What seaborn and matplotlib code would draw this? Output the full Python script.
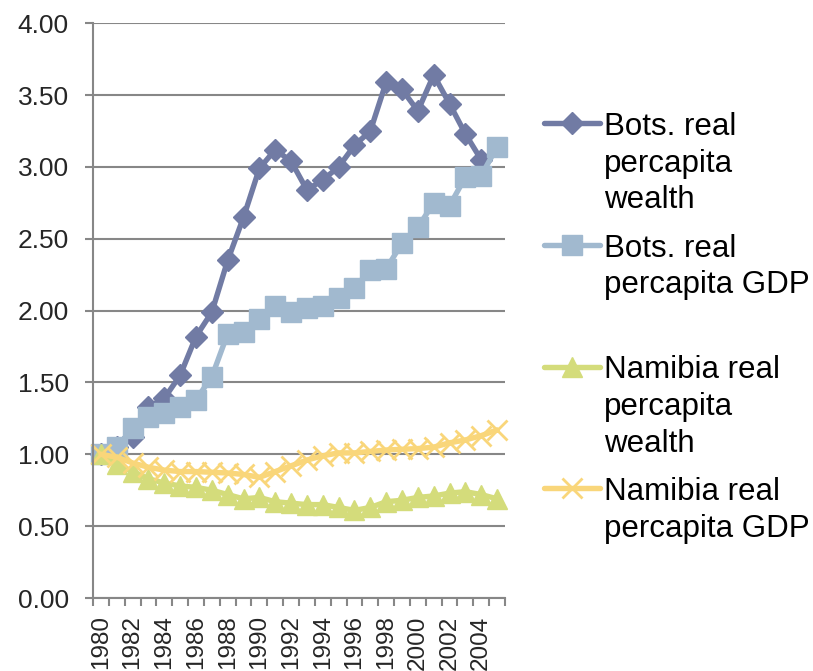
import numpy as np
import pandas as pd
import matplotlib
matplotlib.use("Agg")
import matplotlib.pyplot as plt
from matplotlib.lines import Line2D
import seaborn as sns

years = list(range(1980, 2006))
bots_wealth = [1.00, 1.05, 1.12, 1.33, 1.39, 1.55, 1.82, 1.99, 2.35, 2.65, 2.99, 3.12, 3.04,
               2.84, 2.91, 3.00, 3.15, 3.25, 3.59, 3.54, 3.39, 3.64, 3.44, 3.23, 3.05, np.nan]
bots_gdp = [1.00, 1.05, 1.18, 1.26, 1.29, 1.33, 1.38, 1.54, 1.84, 1.85, 1.94, 2.03, 1.99,
            2.02, 2.03, 2.09, 2.16, 2.28, 2.29, 2.47, 2.58, 2.75, 2.73, 2.93, 2.94, 3.14]
nam_wealth = [1.00, 0.93, 0.88, 0.83, 0.80, 0.78, 0.77, 0.75, 0.72, 0.69, 0.70, 0.67, 0.66,
              0.65, 0.65, 0.63, 0.61, 0.63, 0.67, 0.68, 0.70, 0.71, 0.73, 0.74, 0.72, 0.69]
nam_gdp = [1.00, 0.98, 0.94, 0.91, 0.89, 0.88, 0.88, 0.875, 0.87, 0.86, 0.84, 0.88, 0.92,
           0.96, 0.99, 1.01, 1.01, 1.02, 1.03, 1.035, 1.04, 1.05, 1.08, 1.10, 1.13, 1.17]

labels = ["Bots. real\npercapita\nwealth", "Bots. real\npercapita GDP",
          "Namibia real\npercapita\nwealth", "Namibia real\npercapita GDP"]
series = [bots_wealth, bots_gdp, nam_wealth, nam_gdp]
colors = ["#717BA4", "#A1B9CF", "#D4DC7B", "#F9D67A"]
markers = ["D", "s", "^", "x"]
msizes = [11.5, 15, 14.5, 14.5]
mew = [1, 1, 1, 2]

sns.set_style("white")
plt.rcParams['font.family'] = ['Liberation Sans', 'DejaVu Sans']

W, H = 813, 671
fig = plt.figure(figsize=(W / 100, H / 100), dpi=100)
x0, x1, ytop, ybot = 93, 505, 23.3, 598
ax = fig.add_axes([x0 / W, 1 - ybot / H, (x1 - x0) / W, (ybot - ytop) / H])

LW = 3.9
for lab, vals, c, m, ms, ew in zip(labels, series, colors, markers, msizes, mew):
    df = pd.DataFrame({"year": years, "value": vals}).dropna()
    sns.lineplot(data=df, x="year", y="value", ax=ax, color=c, linewidth=LW,
                 marker=m, markersize=ms, markeredgecolor=c, markerfacecolor=c,
                 markeredgewidth=ew, errorbar=None, sort=False, legend=False,
                 clip_on=False)

gray = "#878787"
ax.set_xlim(years[0] - 0.5, years[-1] + 0.5)
ax.set_ylim(0, 4)
ax.set_yticks(np.arange(0, 4.01, 0.5))
ax.set_yticklabels([f"{v:.2f}" for v in np.arange(0, 4.01, 0.5)])
ax.grid(axis="y", color=gray, linewidth=1.5)
ax.grid(axis="x", visible=False)
ax.set_axisbelow(True)
for s in ["top", "right"]:
    ax.spines[s].set_visible(False)
for s in ["left", "bottom"]:
    ax.spines[s].set_color(gray)
    ax.spines[s].set_linewidth(1.5)

ax.set_xticks([y - 0.5 for y in years] + [years[-1] + 0.5])
ax.set_xticklabels([])
ax.set_xticks(years[::2], minor=True)
ax.set_xticklabels([str(y) for y in years[::2]], minor=True, rotation=90)
ax.tick_params(axis="x", which="major", direction="out", length=5.8, width=1.5, color=gray, bottom=True)
ax.tick_params(axis="x", which="minor", length=0, pad=12.5, labelsize=17.5, bottom=True)
ax.tick_params(axis="y", direction="out", length=5.8, width=1.5, color=gray, pad=11.5,
               labelsize=19, left=True)
ax.set_xlabel("")
ax.set_ylabel("")

# legend (manual, handle aligned with first text line as in reference)
hx0, hx1, tx = 544, 600, 604
first_baselines = [135, 256.7, 378.3, 500]
line_step = 36.7
for lab, c, m, ms, ew, b0 in zip(labels, colors, markers, msizes, mew, first_baselines):
    hy = b0 - 11.7
    fy = 1 - hy / H
    ln = Line2D([hx0 / W, (hx0 + hx1) / 2 / W, hx1 / W], [fy, fy, fy], transform=fig.transFigure,
                color=c, linewidth=LW, marker=m, markersize=ms, markevery=[1],
                markeredgecolor=c, markerfacecolor=c, markeredgewidth=ew)
    fig.add_artist(ln)
    for i, part in enumerate(lab.split("\n")):
        fig.text(tx / W, 1 - (b0 + i * line_step) / H, part, fontsize=22.5,
                 va="baseline", ha="left", color="black")

fig.savefig("out.png", dpi=100)
